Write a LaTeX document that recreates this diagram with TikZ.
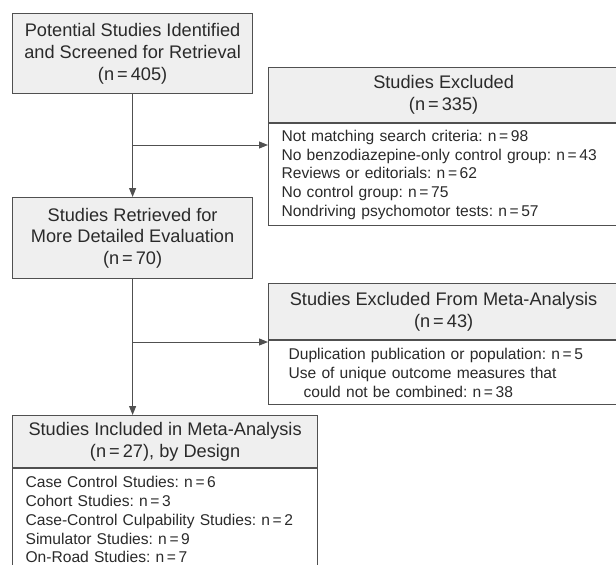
\documentclass[tikz,border=0pt]{standalone}
\usepackage{fontspec}
\setmainfont{Liberation Sans}
\usetikzlibrary{arrows.meta}
\frenchspacing

\definecolor{boxline}{HTML}{505050}
\definecolor{boxfill}{HTML}{EFEFEF}
\definecolor{txt}{HTML}{2A2A2A}

\tikzset{
  head/.style={draw=boxline, fill=boxfill, line width=1.2pt, anchor=north west,
    align=center, inner sep=0pt, text=txt, font=\fontsize{18.2}{21.7}\selectfont},
  body/.style={draw=boxline, line width=1.2pt, anchor=north west, align=left,
    inner ysep=0pt, text=txt, font=\fontsize{15.6}{18.7}\selectfont},
  flow/.style={draw=boxline, line width=1pt, -{Triangle[length=9pt,width=7pt]}}
}

\newcommand{\eq}{\,=\,}

\begin{document}
\begin{tikzpicture}[x=1pt,y=-1pt]
\useasboundingbox (0,0) rectangle (616,565);

% left column
\node[head, minimum width=240pt, minimum height=80pt] (potential) at (12,13)
  {Potential Studies Identified\\and Screened for Retrieval\\(n\eq405)};
\node[head, minimum width=240pt, minimum height=81pt] (retrieved) at (12,197)
  {Studies Retrieved for\\More Detailed Evaluation\\(n\eq70)};
\node[head, minimum width=305pt, minimum height=52pt] (included) at (12,415)
  {Studies Included in Meta-Analysis\\(n\eq27), by Design};
\node[body, minimum height=102pt, inner xsep=13pt, text width=279pt] (designs) at (included.south west)
  {Case Control Studies: n\eq6\\
   Cohort Studies: n\eq3\\
   Case-Control Culpability Studies: n\eq2\\
   Simulator Studies: n\eq9\\
   On-Road Studies: n\eq7};

% right column
\node[head, minimum width=350pt, minimum height=55pt] (excluded) at (268,67)
  {Studies Excluded\\(n\eq335)};
\node[body, minimum height=102pt, inner xsep=13pt, text width=340pt] (exclist) at (excluded.south west)
  {Not matching search criteria: n\eq98\\
   No benzodiazepine-only control group: n\eq43\\
   Reviews or editorials: n\eq62\\
   No control group: n\eq75\\
   Nondriving psychomotor tests: n\eq57};
\node[head, minimum width=350pt, minimum height=56pt] (metaex) at (268,283)
  {Studies Excluded From Meta-Analysis\\(n\eq43)};
\node[body, minimum height=64pt, inner xsep=20pt, text width=320pt] (metalist) at (metaex.south west)
  {Duplication publication or population: n\eq5\\
   Use of unique outcome measures that\\
   \hspace*{15pt}could not be combined: n\eq38};

% connectors
\draw[flow] (potential) -- (retrieved);
\draw[flow] (retrieved.south) -- (retrieved.south |- included.north);
\coordinate (split1) at (132,145);
\coordinate (split2) at (132,342);
\draw[flow] (split1) -- (split1 -| exclist.west);
\draw[flow] (split2) -- (split2 -| metalist.west);
\end{tikzpicture}
\end{document}
